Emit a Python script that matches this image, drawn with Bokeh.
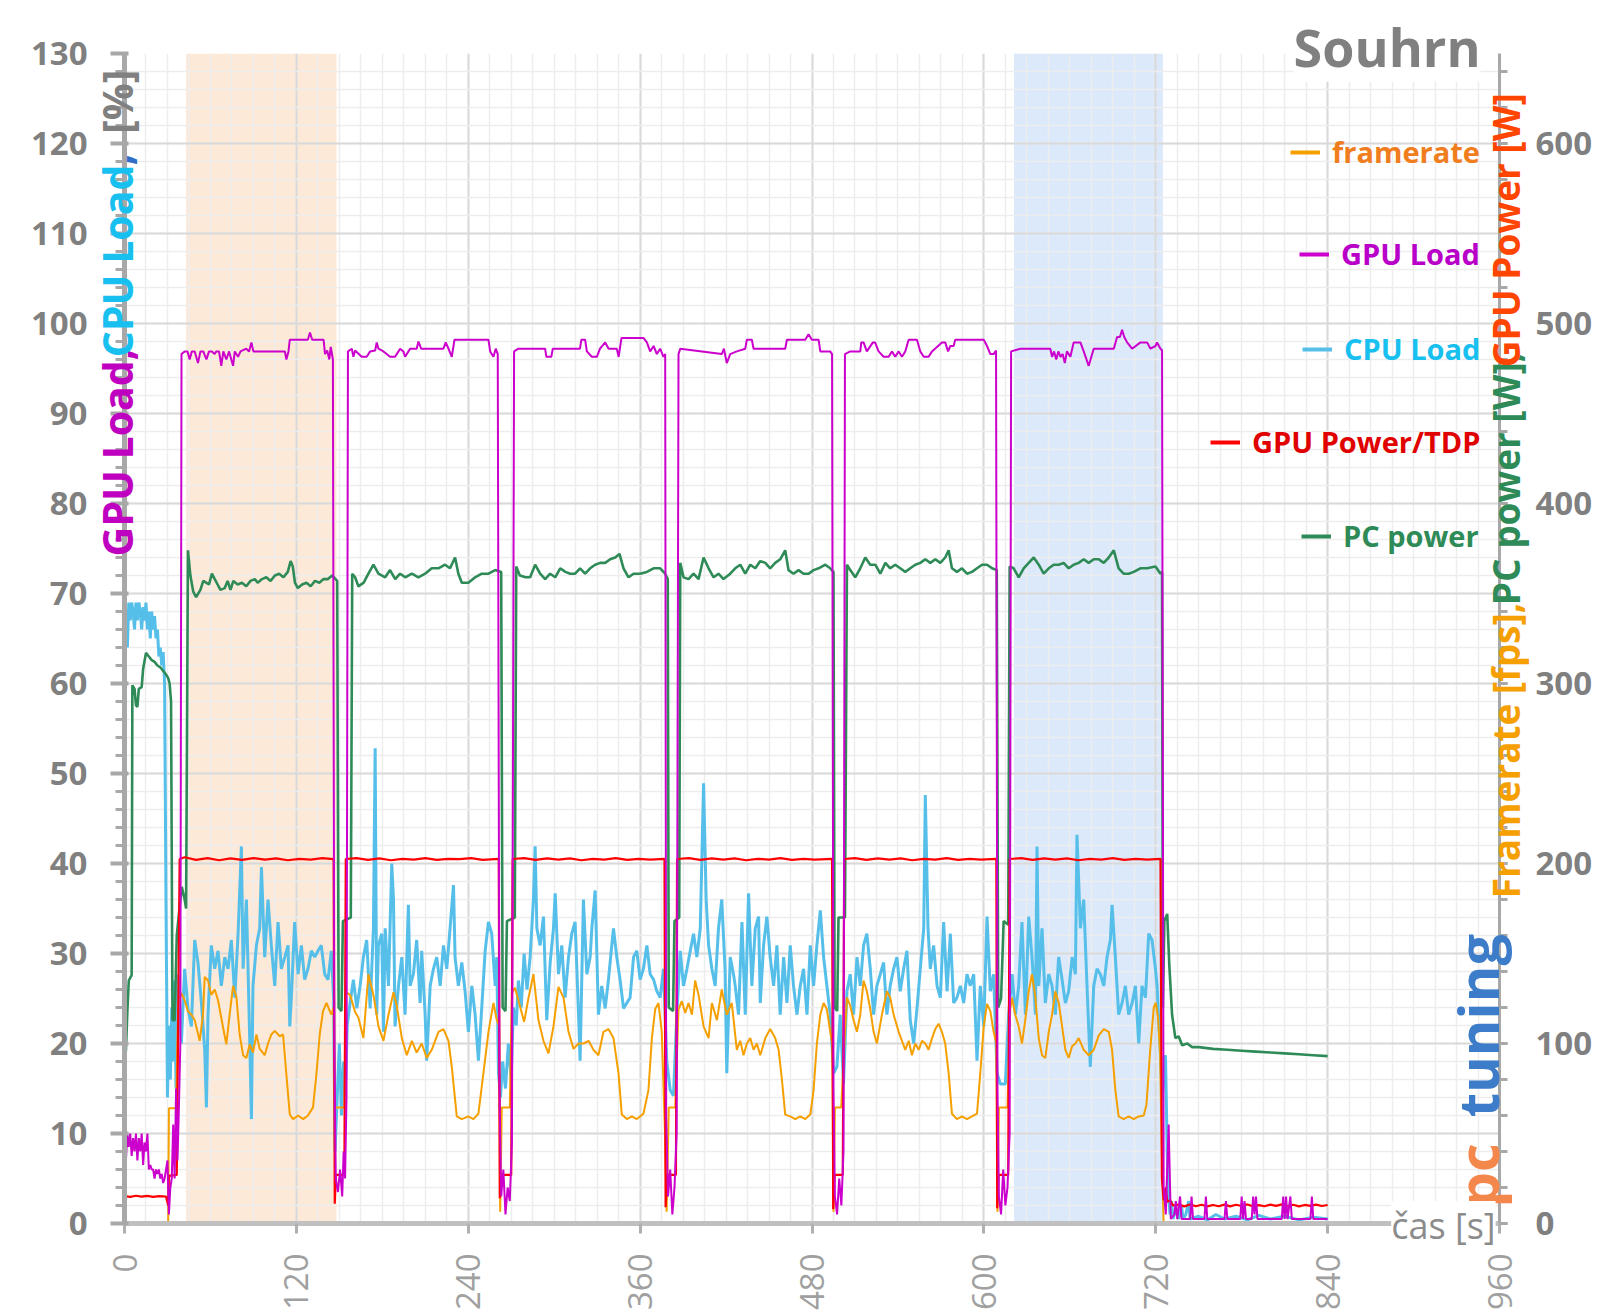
import numpy as np
from bokeh.plotting import figure
from bokeh.models import (Range1d, LinearAxis, FixedTicker, Label, BoxAnnotation,
                          Legend, LegendItem)
from bokeh.embed import file_html
from bokeh.resources import INLINE

FONT = "Open Sans"

# ---------------- data (time [s], value) ----------------
gpu_load_pts = [(0,12),(1,7),(2,10),(3,8.5),(4,10),(5,7.5),(6,9.5),(7,8),(8,10),(9,7),(10,9.5),(11,8),(12,10),(13,6.5),(14,9),(15,8),(16,10),(17,6),(18,6.5),(19,6),(20,6),(21,5),(22,6),(23,5.5),(24,6),(25,5),(26,5.5),(27,4.5),(28,5),(29,6),(30,7),(31,1),(32,4),(33,5),(34,11),(35,5),(36,15),(37,7),(38,13),(39,20),
 (39.8,96.6),(42,96.9),(44,96.9),(45.5,96.0),(47,96.9),(49,96.9),(51.3,95.6),(53,96.9),(55,96.9),(57.2,96.0),(59,96.9),(61,96.9),(63,96.6),(64,96.9),(66,96.9),(67.6,95.3),(69,96.9),(71.1,96.0),(73,96.9),(75.8,95.3),(77,96.9),(79.3,96.3),(81,96.9),(85,97.2),(87,96.9),(88.6,97.9),(90,96.9),(112,96.9),(113,96.0),(114.5,96.9),(115.4,98.2),(128,98.2),(129.5,99.0),(131,98.2),(139,98.2),(140,96.6),(141.5,97.0),(143,96.0),(144,97.4),(145.5,96.0),
 (146.5,20),(147.5,5),(149,3.5),(150.5,6),(152,3),(153,8),(154,5),(155,14),
 (156,96.9),(158.7,97.2),(159.8,96.3),(161,97.0),(165.6,96.3),(169.1,96.3),(171.5,96.9),(175,97.0),(176.1,97.9),(177.3,97.2),(180.8,96.9),(185.4,96.3),(188.9,96.3),(191.3,96.9),(192.4,97.2),(194.7,96.9),(195.9,96.3),(198.2,96.9),(199.4,97.2),(204,97.2),(205.2,98.0),(207.1,97.2),(222.7,97.2),(224.3,97.9),(226.2,97.2),(228.5,96.3),(230.4,98.2),(254.1,98.2),(255.3,96.9),(257.6,96.3),(259.2,97.2),(260.6,96.6),
 (261.8,15),(263,3),(264.5,6),(266,1),(267.5,4),(269,2.5),(270.5,9),
 (272,96.9),(275,97.2),(293.7,97.2),(294.5,96.3),(298,96.3),(299,97.2),(318,97.2),(319,98.2),(321.6,98.2),(322.8,96.9),(326.3,96.3),(329.8,96.3),(332,97.2),(335.6,97.9),(338,97.2),(343.7,97.2),(345,96.3),(347,98.4),(362.3,98.4),(364.7,97.9),(367,96.9),(369.4,97.5),(371.7,96.6),(374,97.2),(376.3,96.3),(377.5,96.6),
 (378.2,12),(379.5,3),(381,6),(382.5,1),(384,4),(385.5,10),
 (386.8,96.6),(388,97.2),(417,96.6),(418.5,97.2),(420.5,95.6),(422.9,96.6),(427.5,96.9),(433.4,97.2),(434.5,98.2),(438,98.2),(439.2,97.2),(461.3,97.2),(462.5,98.2),(475.3,98.2),(477.6,98.8),(479.9,98.2),(484.6,98.2),(485.8,96.9),(492.7,96.9),(494,96.6),
 (495,15),(496,3),(497.5,1),(499,5),(500.5,2),(502,8),
 (503,96.6),(506.7,96.9),(513.7,96.9),(514.4,97.9),(516,97.9),(518.3,96.9),(522.5,97.9),(524,97.9),(526.5,96.9),(530,96.3),(533.5,96.3),(535.8,96.9),(538.1,96.3),(540.5,96.9),(542.8,96.3),(545.1,96.9),(547.5,98.2),(553.3,98.2),(555.6,96.9),(558,96.3),(561.4,96.3),(563.8,96.9),(570.7,97.9),(573,97.9),(575,96.9),(576.6,97.5),(578.9,97.5),(580,98.2),(599.9,98.2),(602.2,97.5),(604.5,96.6),(606.8,96.6),(608.5,97.0),
 (609.5,15),(610.5,3),(612,1),(613.5,6),(615,2),(616.5,4),(618,10),
 (619,96.9),(625.5,97.2),(646.4,97.2),(647.6,96.3),(649,96.9),(650.5,96.0),(652,96.9),(653.5,96.3),(655,96.6),(656.5,95.6),(658,96.9),(660.4,96.3),(662.7,97.9),(667.4,97.9),(669.7,96.9),(673.2,95.3),(676.7,97.2),(690.7,97.2),(693,98.5),(695,98.5),(696.5,99.3),(698,98.5),(700,97.9),(703.5,97.2),(709.3,97.9),(714,97.9),(716.3,97.2),(719.8,97.5),(720.9,97.9),(723.3,97.2),(724.4,97.0),
 (725.5,4),(727,1),(729,11),(730.5,0.5),(733,1),(734,2.5),(735,0.5),(737,3),(738,0.5),(744,0.5),(745,3),(746,0.5),(754,0.5),(755,3),(756,0.5),(768,0.5),(769,2.5),(770,0.5),(779,0.5),(780,3),(781,0.5),(782,2.5),(783,0.5),(787,0.5),(788,3),(789,1),(790,3),(791,0.5),(808,0.5),(809,3),(810,0.5),(811,3),(812,0.5),(814,3),(815,0.5),(828,0.5),(829,3),(830,0.5),(840,0.5)]

gpu_power_pts = [(0,15.2),(4,14.8),(8,15.4),(12,14.9),(16,15.3),(20,14.8),(24,15.2),(29,15.0),(30.5,10),(31,26.5),(36.5,27),(38.5,202.5),(42,203.5),(50,202),(58,203),(66,201.8),(74,202.8),(82,202),(90,203),(98,202.2),(106,202.8),(114,201.8),(122,202.6),(130,202.2),(138,203),(146,202.4),
 (146.8,11),(147.5,27),(153.5,27),(154.5,202.5),(162,203),(170,202),(178,202.8),(186,201.8),(194,202.6),(202,202.2),(210,203),(218,202),(226,202.6),(234,202.4),(242,203),(250,202),(261.3,202.6),
 (262,14),(263,27),(270,27),(271,202.5),(279,203),(287,202),(295,202.8),(303,202.2),(311,202.8),(319,201.8),(327,202.6),(335,202.2),(343,203),(351,202),(359,202.6),(367,202.2),(377,202.6),
 (377.8,9),(378.8,27),(385,27),(385.8,202.5),(394,203),(402,202),(410,202.8),(418,202.2),(426,202.8),(434,201.8),(442,202.6),(450,202.2),(458,203),(466,202),(474,202.6),(482,202.2),(494,202.6),
 (494.8,8),(495.8,27),(501.5,27),(502.5,202.5),(510,203),(518,202),(526,202.8),(534,202.2),(542,202.8),(550,201.8),(558,202.6),(566,202.2),(574,203),(582,202),(590,202.6),(598,202.2),(608.7,202.6),
 (609.3,8.5),(610.3,27),(617,27),(618,202.5),(626,203),(634,202),(642,202.8),(650,202.2),(658,202.8),(666,201.8),(674,202.6),(682,202.2),(690,203),(698,202),(706,202.6),(714,202.2),(723.3,202.6),
 (724.3,25),(725.5,13),(727,20),(728,12),(730,13),(732,10),(736,10.5),(740,9.5),(744,10.6),(748,9.6),(752,10.4),(756,9.5),(760,10.3),(764,9.6),(768,10.5),(772,9.5),(776,10.4),(780,9.7),(784,10.6),(788,9.5),(792,10.2),(796,9.6),(800,10.5),(804,9.8),(808,10.6),(812,9.6),(816,10.4),(820,9.5),(824,10.3),(828,9.8),(832,10.5),(836,9.7),(840,10.3)]

pc_power_pts = [(0,93),(1,96),(2,118),(3,135),(5,138),(5.5,299),(7,297),(8,288),(9,287),(10,297),(12,298),(13,308),(15,317),(17,315),(19,313),(21,312),(23,310),(25,309),(27,307),(29,305),(30.5,303),(31.5,300),(32.5,290),(33.5,113),(35,113),(36.5,160),(38,172),(40,187),(42,180),(43,175),(44.3,374),(46,360),(48,351),(50,348),(53,352),(55,357),(57,356),(59,355),(61,361),(63,358),(65,355),(67,352),(70,353),(72,357),(74,352),(76,357),(79,355),(82,356),(85,354),(88,357),(91,358),(93,356),(96,358),(99,359),(102,357),(105,360),(108,361),(111,359),(114,362),(116,368),(117.5,365),(119,356),(121,353),(124,355),(127,356),(130,354),(133,357),(136,356),(139,358),(142,358),(145,360),(148.5,357),
 (149.5,120),(151.5,118),(152.5,168),(158,170),
 (159,361),(161,359),(163.3,354),(167,356),(170.3,361),(173.8,366),(177.3,361),(182,359),(185.4,363),(189,358),(192.4,361),(196,359),(200.6,361),(205.2,359),(209.9,361),(214.5,364),(219.2,364),(223.8,366),(227.3,364),(230.8,370),(233.1,361),(235.5,356),(240.1,356),(244.8,359),(249.4,361),(254.1,361),(258.8,363),(263,362),
 (264,120),(266,118),(267,168),(272.5,170),
 (273.5,365),(276,360),(280,359),(283.2,359),(286.7,366),(290.2,361),(293.7,358),(297.2,361),(300.7,359),(304.2,364),(307.8,362),(311.2,361),(314.6,361),(318.1,364),(321.6,361),(325.1,364),(328.6,366),(332.1,367),(335.6,367),(339.1,369),(342.6,370),(345.6,372),(348.4,364),(351.9,359),(355.4,361),(360,361),(364.7,362),(369.4,364),(374,364),(377.5,361),(379.3,358),
 (380,120),(383,118),(384,168),(387.3,170),
 (388,367),(390.3,359),(393.8,358),(397.3,361),(400.8,358),(404.3,370),(407.8,364),(411.3,359),(414.7,361),(418.2,358),(422.9,361),(426.4,364),(429.9,366),(433.4,361),(436.9,366),(440.4,364),(443.9,368),(447.4,367),(450.8,364),(454.3,367),(457.8,369),(461.3,374),(463.6,363),(467.1,361),(470.6,363),(474.1,361),(477.6,361),(481.1,363),(484.6,364),(489.3,366),(492.7,364),(495,362),
 (495.8,120),(497.6,118),(498.5,170),(503,170),
 (504.4,366),(506.7,363),(510.2,359),(513.7,364),(517.2,370),(520.7,366),(524.2,366),(527.7,361),(531.2,367),(534.6,364),(538.1,366),(541.6,364),(545.1,362),(548.6,364),(552.1,366),(555.6,367),(559.1,369),(562.6,367),(566.1,369),(569.6,367),(573,370),(575.4,374),(577.7,364),(581.2,362),(584.7,364),(588.2,361),(591.7,362),(595.2,364),(598.7,366),(602.2,366),(605.7,364),(609,363),
 (610,120),(612,125),(613.8,168),(617,166),
 (618,365),(620.8,364),(624.3,359),(627.8,364),(631.3,367),(634.8,370),(638.3,366),(641.8,361),(645.3,364),(648.8,366),(652.3,366),(655.7,367),(659.2,364),(662.7,366),(666.2,367),(669.7,369),(673.2,367),(676.7,369),(680.2,369),(683.7,367),(687.2,370),(690.7,374),(694.1,364),(697.6,361),(701.1,361),(704.6,362),(709.3,364),(714,364),(719.8,365),(723.3,361),(724.4,362),
 (725,120),(726,168),(728,172),(729.5,143),(731.4,116),(733.7,103),(736,104),(738.4,99),(742,100),(745.4,98),(750,98),(760,97),(770,96.5),(780,96),(790,95.5),(800,95),(810,94.5),(820,94),(830,93.5),(840,93)]

cpu_load_pts = [(0,65),(1,68),(2,64),(3,69),(4,67),(5,69),(6,68),(7,66),(8,69),(9,67),(10,69),(11,68),(12,66),(13,68.5),(14,67),(15,69),(16,66),(17,68),(18,65),(19,68),(20,66),(21,67.5),(22,65),(23,66),(24,63),(25,64),(26,62),(27,63.5),(28,60),(29,35),(30,14),(31,22),(32,16),(33,24),(34,18),(35,27),(36,15),(37.4,27.7),(39.7,20),(42,28.3),(44.3,23.9),(46.7,21.9),(49,31.5),(51.3,29),(53.7,24.5),(56,19.3),(57.2,12.9),(58.3,23.2),(60.6,30.9),(63,28.3),(65.3,30.3),(67.6,26.4),(70,29.6),(72.3,28.3),(74.6,31.5),(77,25.1),(79.3,32.2),(81.6,41.9),(82.8,28.3),(85.1,36),(87.4,20.6),(88.6,11.6),(89.7,26.4),(92.1,30.9),(94.4,32.8),(95.6,39.6),(97.9,29.6),(100.2,36),(102.5,30.9),(104.9,26.4),(107.2,33.5),(109.5,28.3),(111.9,29.6),(114.2,30.9),(115.4,21.9),(116.5,25.1),(118.8,33.5),(121.2,27.7),(123.5,30.9),(125.8,27.1),(128.1,28.3),(130.5,30.3),(132.8,29.6),(135.1,30.3),(137.4,30.9),(139.8,27.7),(142.1,27.1),(144.4,30.3),
 (146,25),(147,8),(148.5,14),(150,20),(151.5,12),(153,18),(154.5,16),(155.5,22),
 (157.5,24.5),(159.8,27.1),(162.2,23.9),(164.5,26.4),(166.8,29.6),(169.1,31.5),(171.5,23.9),(173.8,32.8),(175,52.8),(176.1,23.2),(177.3,30.9),(179.6,32.2),(180.8,21.3),(182,32.8),(184.3,26.4),(186.6,40),(187.8,36),(188.9,21.9),(191.3,26.4),(193.6,29.6),(195.9,23.2),(198.2,35.4),(199.4,26.4),(201.7,27.7),(204,31.5),(206.4,24.5),(207.5,30.3),(209.9,23.2),(211,18.1),(213.4,26.4),(215.7,28.3),(218,29.6),(220.4,26.4),(222.7,30.9),(225,28.3),(227.3,32.8),(229.7,37.6),(230.8,29.6),(233.1,26.4),(235.5,29),(237.8,25.8),(240.1,21.3),(242.5,26.4),(244.8,23.2),(247.1,18.1),(249.4,23.9),(251.8,30.3),(254.1,33.5),(256.4,32.2),(258.8,26.4),(259.9,29.6),(261.1,16.7),(262.5,14),(264,18),(266,15),(268,20),(270,16),(271.5,24),
 (273.5,22),(275,27),(277,24),(279,30),(281,26),(283.2,29.6),(285.5,36),(286.7,41.9),(287.9,32.8),(290.2,30.9),(292.5,34.1),(294.8,22.6),(297.2,29),(299.5,32.8),(300.7,36.7),(303,27.7),(305.3,30.9),(307.6,25.1),(310,29.6),(312.3,32.2),(314.6,33.5),(317,23.2),(318.1,18.1),(320.4,36),(322.8,27.7),(325.1,29.6),(326.3,32.8),(328.6,37),(330.9,23.2),(333.2,26.4),(335.6,23.9),(337.9,27.1),(340.2,30.9),(341.4,32.8),(343.7,29.6),(346,27.1),(348.4,23.9),(350.7,24.5),(353,25.1),(355.4,29.6),(357.7,30.3),(360,27.1),(362.3,28.3),(364.7,30.9),(367,27.7),(369.4,27.1),(371.7,25.8),(374,25.1),(376.3,28.3),(378.6,18.1),(381,14.8),(383.3,14.2),(385.6,23.2),(388,30.3),(390.3,26.4),(392.7,28.3),(395,30.3),(397.3,32.2),(399.6,29.6),(402,32.8),(404.3,48.9),(406.1,36),(407.8,30.9),(410.1,28.3),(412.4,26.4),(414.7,32.8),(417,36),(419.3,28.3),(420.5,16.7),(422.9,29.6),(425.2,27.7),
 (426.4,26.4),(428.7,23.2),(431.1,33.5),(433.4,23.2),(435.7,36.7),(438,26.4),(440.4,32.8),(442.7,34.1),(443.9,24.5),(446.2,30.9),(448.5,34.1),(450.8,29.6),(453.2,26.4),(455.5,30.9),(457.8,23.2),(460.2,29.6),(462.5,24.5),(464.8,30.9),(467.1,26.4),(469.5,23.2),(471.8,26.4),(474.1,28.3),(476.5,23.2),(478.8,30.9),(481.1,26.4),(483.4,30.9),(485.8,34.8),(488.1,29.6),(490.4,26.4),(492.7,23.2),(495.1,16.7),(497.4,17.4),(499.7,23.2),(502,15.5),(504.4,25.8),(506.7,27.7),(509,23.2),(511.4,29.6),(513.7,26.4),(516,30.9),(518.3,32.2),(520.7,28.3),(523,23.2),(525.3,26.4),(527.7,27.7),(530,29),(532.3,23.2),(534.6,26.4),(537,28.3),(539.3,29.6),(541.6,25.8),(544,28.3),(546.3,30.3),(548.6,22.6),(551,20),(553.3,23.9),(555.6,28.3),(558,32.8),(559.1,47.6),(561,32.8),(562.6,28.3),(564.9,30.9),(567.3,26.4),
 (569.6,25.1),(571.9,33.5),(574.3,25.8),(576.6,32.2),(578.9,24.5),(581.2,25.1),(583.6,26.4),(585.9,24.5),(588.2,27.7),(590.5,26.4),(592.9,27.7),(595.2,18.1),(597.5,26.4),(599.9,21.9),(602.2,34.1),(604.5,25.8),(606.8,27.7),(609.2,16.7),(611.5,15.5),(615,15.5),(617.3,23.2),(619.7,27.7),(622,23.2),(624.3,26.4),(626.6,33.5),(629,23.2),(631.3,34.1),(633.6,29.6),(636,23.2),(637.1,41.9),(638.3,26.4),(640.6,32.8),(642.9,24.5),(645.3,27.7),(647.6,26.4),(649.9,23.2),(652.2,29.6),(654.6,27.1),(656.9,24.5),(659.2,25.8),(661.6,29.6),(663.9,27.7),(665,43.2),(667.4,32.8),(669.7,36),(672,26.4),(674.3,17.4),(676.7,26.4),(679,28.3),(681.3,27.7),(683.7,26.4),(686,29.6),(688.3,31.5),(689.5,35.4),(691.8,29.6),(694.1,23.2),(696.5,24.5),(698.8,26.4),(701.1,23.2),(703.5,24.5),(705.8,26.4),(708.1,20),(710.4,26.4),(712.8,25.1),(715.1,32.2),(717.4,31.5),(719.8,28.3),(720.9,26.4),(723.3,18.7),(724.5,14),(725.6,16.7),(726.8,18.7),(728,8),(729,3),(730,1),(731,2.5),(732,0.5),(734,1.5),(736,0.5),(738,2),(739,0.5),(741,1),(743,2.5),(744,0.5),(750,0.8),(756,0.4),(762,1),(768,0.5),(776,0.8),(784,0.4),(792,0.9),(800,0.5),(810,0.8),(820,0.4),(830,0.7),(840,0.5)]

framerate_pts = [(0,0),(30.5,0),(31,64),(36,64),(37.5,122),(39.7,128),(42,124),(44.3,118),(46.7,116),(49,113),(52.5,101.5),(54.8,116),(56,137),(58.3,135),(60.6,127),(63,130),(65.3,124),(68.8,109),(71.1,99.5),(73.4,116),(75.8,132),(78.1,126),(80.4,105),(82.8,93.5),(85.1,92),(87.4,99.5),(89.7,95),(92.1,105),(94.4,97),(97.9,93.5),(100.2,100),(102.5,105),(104.9,107),(108.4,104),(110.7,105),(113,83),(115.4,60.5),(117.7,58),(121.2,60),(124.7,58),(128.1,60),(131.6,64.5),(134,83),(136.3,105),(138.6,118),(141,122.5),(144.4,116),(146,120),
 (146.8,64.5),(153.5,64.5),
 (154.5,128.5),(157.5,127),(161,117.5),(163.3,114.5),(166.8,103),(170.3,138.5),(173.8,127),(177.3,109.5),(180.8,101.5),(184.3,116),(187.8,128.5),(190.1,121),(193.6,103),(197.1,93.5),(200.6,101.5),(204,95),(207.5,100),(211,92),(214.5,96.5),(219.2,106.5),(222.7,108),(226.2,101.5),(228.5,87),(232,59.5),(235.5,58),(240.1,59.5),(243.6,58),(247.1,61),(250.6,83.5),(254.1,106.5),(257.6,122.5),(259.9,113),(261.5,110),
 (262.3,6.5),(263.4,64.5),(269,64.5),
 (270.5,128),(272.7,131),(276,121),(279,112),(282,125),(285.5,138.5),(289,113),(292.5,101.5),(296,94.5),(299.5,109.5),(303,131.5),(306.5,125.5),(310,106.5),(313.5,97),(317,100),(320.5,100),(324,101.5),(327.4,96.5),(330.9,93.5),(334.4,106.5),(337.9,108),(341.4,103),(344.9,83.5),(347.2,60.5),(350.7,58),(354.2,59.5),(357.7,58),(362.3,61),(365.8,74),(368.2,103),(370.5,119),(372.8,122.5),(375.1,106.5),(377.3,52),
 (378.5,6.5),(380,64.5),(384.5,64.5),
 (386.8,119),(389.1,123.5),(391.5,117),(393.8,122.5),(396.2,116),(398.4,135),(400.8,127),(404.3,109.5),(407.8,103),(410.1,122.5),(413.6,113),(417,130),(420.5,116),(424,122.5),(427.5,96.5),(429.9,101.5),(432.2,93.5),(434.5,100),(436.9,103),(439.2,96.5),(441.5,100),(443.9,93.5),(447.4,103),(450.8,108),(454.3,103),(456.7,96.5),(459,80),(461.3,60.5),(464.8,59.5),(468.3,58),(471.8,59.5),(475.3,58),(478.8,60.5),(481.1,74),(483.4,100),(485.8,116),(488.1,122.5),(490.4,119),(492.7,106.5),(494.2,100),
 (495,6.5),(496,64.5),(500.4,64.5),
 (502,90),(504.4,125.5),(506.7,121),(509,113),(511.4,106.5),(513.7,116),(516,135),(518.3,129),(520.7,119),(523,106.5),(525.3,100),(528.8,116),(532.3,129),(534.6,125.5),(537,116),(540.5,106.5),(542.8,101.5),(545.1,96.5),(547.5,101.5),(549.8,93.5),(552.1,100),(554.5,96.5),(556.8,101.5),(559.1,100),(561.4,96.5),(563.8,103),(566.1,108),(568.4,111),(570.7,106.5),(573,100),(575.4,83.5),(577.7,61),(581.2,58),(584.7,59.5),(588.2,58),(591.7,59.5),(595.2,61),(597.5,83.5),(599.9,109.5),(602.2,122),(604.5,118),(606.8,106.5),(608.7,100),
 (609.5,6.5),(610.5,64.5),(616.5,64.5),
 (618.4,119),(619.6,125.5),(621.9,116),(624.3,109.5),(626.6,100),(628.9,113),(631.3,129),(633.6,138.5),(635.9,126),(638.3,103),(640.6,93.5),(642.9,92),(645.3,106.5),(647.6,116),(649.9,129),(652.3,122.5),(654.6,109.5),(656.9,96.5),(659.2,92),(661.6,98.5),(663.9,100),(666.2,103),(669.7,96.5),(673.2,93.5),(676.7,96.5),(680.2,104.5),(683.7,108),(687.2,106.5),(689.5,96.5),(691.8,74),(694.1,59.5),(697.6,58),(701.1,59.5),(704.6,58),(708.1,59.5),(711.6,60),(713.5,66),(716,95),(718.6,120),(720,122.5),(721.5,115),(723,95),(724.2,40),(725.5,0),(840,0)]

highlight_orange = (43, 148)   # seconds
highlight_blue = (621, 725)    # seconds

x_ticks = list(range(0, 961, 120))
y_left_ticks = list(range(0, 131, 10))
y_right_ticks = list(range(0, 601, 100))

def split(pts):
    return [a for a, b in pts], [b for a, b in pts]

# ---------------- layout geometry ----------------
W, H = 1600, 1313
BL, BR, BT, BB = 124, 101, 53, 88
X0, X1, Y0, Y1 = 0, 960, 0, 130
SX = (W - BL - BR) / (X1 - X0)
SY = (H - BT - BB) / (Y1 - Y0)

# ---------------- main figure ----------------
p = figure(width=W, height=H, output_backend="svg", toolbar_location=None,
           x_range=Range1d(X0, X1), y_range=Range1d(Y0, Y1),
           min_border_left=BL, min_border_right=BR, min_border_top=BT, min_border_bottom=BB,
           background_fill_color="white", border_fill_color="white", outline_line_color=None)
p.extra_y_ranges = {"w": Range1d(0, 650)}

xt = FixedTicker(ticks=x_ticks, minor_ticks=list(range(0, 961, 15)))
yt = FixedTicker(ticks=y_left_ticks, minor_ticks=list(range(0, 131, 2)))

xa = p.xaxis[0]
xa.ticker = xt
xa.major_label_orientation = np.pi / 2
xa.major_label_text_font = FONT
xa.major_label_text_font_size = "33px"
xa.major_label_text_color = "#a0a0a0"
xa.major_label_standoff = 20
xa.axis_line_color = "#c0c0c0"
xa.axis_line_width = 5
xa.major_tick_line_color = "#b0b0b0"
xa.major_tick_line_width = 3
xa.major_tick_out = 10
xa.major_tick_in = 0
xa.minor_tick_out = 0
xa.minor_tick_in = 0

ya = p.yaxis[0]
ya.ticker = yt
ya.major_label_text_font = FONT
ya.major_label_text_font_style = "bold"
ya.major_label_text_font_size = "33px"
ya.major_label_text_color = "#808080"
ya.major_label_standoff = 23
ya.axis_line_color = "#a8a8a8"
ya.axis_line_width = 5
ya.major_tick_line_color = "#a8a8a8"
ya.major_tick_line_width = 4
ya.major_tick_out = 14
ya.major_tick_in = 4
ya.minor_tick_line_color = "#a8a8a8"
ya.minor_tick_line_width = 3
ya.minor_tick_out = 9
ya.minor_tick_in = 0

ra = LinearAxis(y_range_name="w",
                ticker=FixedTicker(ticks=y_right_ticks, minor_ticks=list(range(0, 651, 20))))
ra.major_label_text_font = FONT
ra.major_label_text_font_style = "bold"
ra.major_label_text_font_size = "33px"
ra.major_label_text_color = "#808080"
ra.major_label_standoff = 28
ra.axis_line_color = "#a8a8a8"
ra.axis_line_width = 3
ra.major_tick_line_color = "#a8a8a8"
ra.major_tick_line_width = 3
ra.major_tick_out = 8
ra.major_tick_in = 0
ra.minor_tick_line_color = "#a8a8a8"
ra.minor_tick_line_width = 3
ra.minor_tick_out = 8
ra.minor_tick_in = 0
p.add_layout(ra, "right")

p.xgrid.ticker = xt
p.ygrid.ticker = yt
for g in (p.xgrid[0], p.ygrid[0]):
    g.grid_line_color = "#d9d9d9"
    g.grid_line_width = 2
    g.minor_grid_line_color = "#ededed"
    g.minor_grid_line_width = 1.5

p.add_layout(BoxAnnotation(left=highlight_orange[0], right=highlight_orange[1],
                           fill_color="#fde9d7", fill_alpha=1.0, line_color=None, level="image"))
p.add_layout(BoxAnnotation(left=highlight_blue[0], right=highlight_blue[1],
                           fill_color="#dbe9fb", fill_alpha=1.0, line_color=None, level="image"))

# ---------------- series ----------------
series = [
    ("CPU Load", cpu_load_pts, "#55bfea", 3.0, "default"),
    ("framerate", framerate_pts, "#f5a000", 2.0, "w"),
    ("PC power", pc_power_pts, "#2e8b57", 2.6, "w"),
    ("GPU Power/TDP", gpu_power_pts, "#ff0000", 2.2, "w"),
    ("GPU Load", gpu_load_pts, "#cc00cc", 2.0, "default"),
]
swatches = {}
for name, pts, col, lw, rng in series:
    t, v = split(pts)
    p.line(t, v, line_color=col, line_width=lw, y_range_name=rng)
    # one-point line: draws nothing, only provides a thicker legend swatch
    swatches[name] = p.line(t[:1], v[:1], line_color=col, line_width=4, y_range_name=rng)

# ---------------- legend (one per entry, coloured text, right aligned) ----------------
legend_specs = [
    ("framerate", "#f07d1e", 1166, 1052),
    ("GPU Load", "#b800c8", 1175, 950),
    ("CPU Load", "#18c0f0", 1178, 855),
    ("GPU Power/TDP", "#e00000", 1086, 762),
    ("PC power", "#2e8b57", 1177, 668),
]
for lab, tcol, lx, ly in legend_specs:
    lg = Legend(items=[LegendItem(label=lab, renderers=[swatches[lab]])], location=(lx, ly),
                background_fill_alpha=0, border_line_alpha=0,
                label_text_font=FONT, label_text_font_style="bold", label_text_font_size="29px",
                label_text_color=tcol, glyph_width=30, glyph_height=20, label_standoff=12,
                padding=0, margin=0, spacing=0)
    p.add_layout(lg)

# ---------------- transparent overlay for texts outside the plot frame ----------------
q = figure(width=W, height=H, output_backend="svg", toolbar_location=None,
           x_range=Range1d(X0 - BL / SX, X1 + BR / SX), y_range=Range1d(Y0 - BB / SY, Y1 + BT / SY),
           min_border=0, min_border_left=0, min_border_right=0, min_border_top=0, min_border_bottom=0,
           x_axis_location=None, y_axis_location=None,
           background_fill_alpha=0, border_fill_alpha=0, outline_line_color=None)
q.xgrid.visible = False
q.ygrid.visible = False
q.styles = {"position": "absolute", "left": "0px", "top": "0px"}

def vlabel(x, y, text, color, size):
    q.add_layout(Label(x=x, y=y, text=text, angle=np.pi / 2, text_align="left",
                       text_baseline="middle", text_font=FONT, text_font_style="bold",
                       text_font_size=size, text_color=color))

vlabel(-5.0, 74.2, "GPU Load,", "#c000c0", "41px")
vlabel(-5.0, 96.3, "CPU Load", "#18c0f0", "41px")
vlabel(-5.0, 117.6, ",", "#2f6fc8", "41px")
vlabel(-5.0, 121.1, "[%]", "#808080", "41px")

vlabel(964.5, 36.3, "Framerate [fps],", "#f5a000", "37px")
vlabel(964.5, 68.8, "PC power [W],", "#2e8b57", "37px")
vlabel(964.5, 95.2, "GPU Power [W]", "#ff4500", "37px")

# logo
vlabel(944.5, 2.0, "pc", "#f4874b", "56px")
vlabel(944.5, 12.0, "tuning", "#3d7cc9", "56px")

q.add_layout(Label(x=946.8, y=130.8, text="Souhrn", text_align="right", text_baseline="middle",
                   text_font=FONT, text_font_style="bold", text_font_size="52px",
                   text_color="#808080", background_fill_color="white"))
q.add_layout(Label(x=957.3, y=0, text="čas [s]", text_align="right", text_baseline="middle",
                   text_font=FONT, text_font_size="36px", text_color="#8c8c8c",
                   background_fill_color="white"))

open("out.html", "w").write(file_html([p, q], INLINE))
